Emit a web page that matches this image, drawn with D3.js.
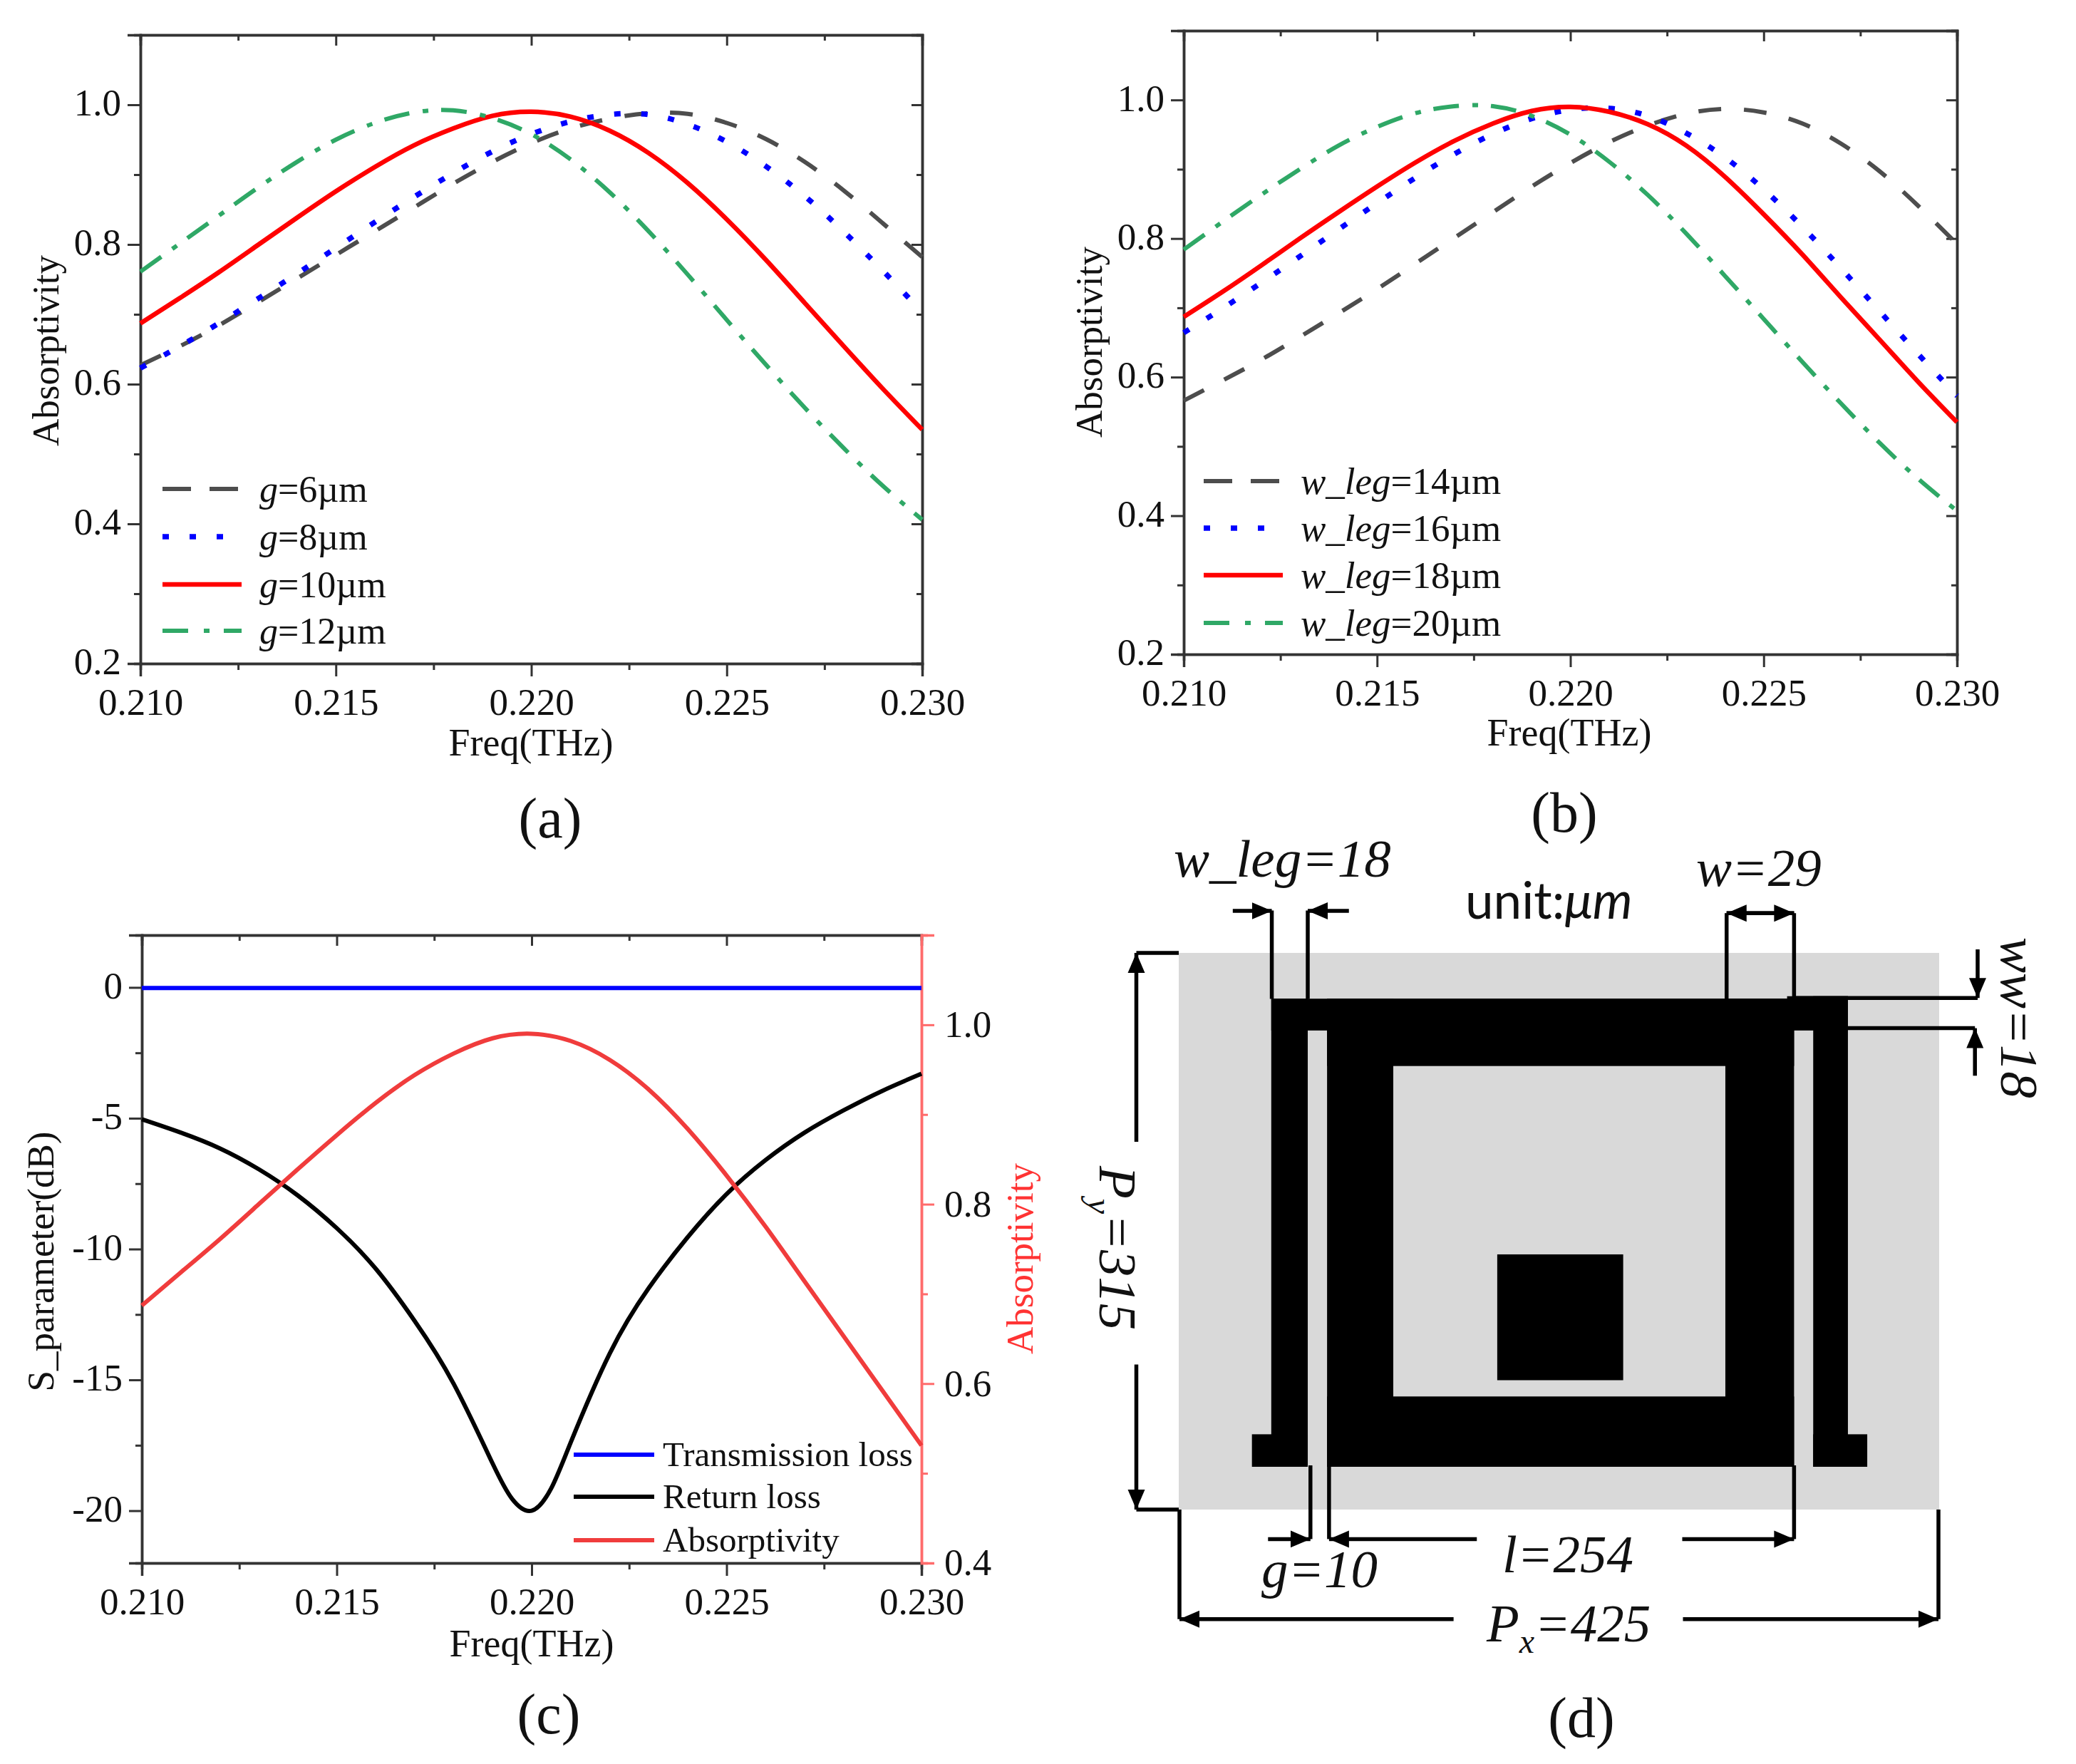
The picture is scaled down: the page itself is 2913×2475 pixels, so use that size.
<!DOCTYPE html>
<html>
<head>
<meta charset="utf-8">
<script src="https://cdn.jsdelivr.net/npm/d3@7"></script>
<style>
  html, body { margin: 0; background: #fff; }
  svg { display: block; }
  text { font-family: "Liberation Serif", serif; fill: #111; }
</style>
</head>
<body>
<svg width="2913" height="2475"></svg>
<script>
// frequency grid shared by all the curves (THz)
const freq = [0.210, 0.211, 0.212, 0.213, 0.214, 0.215, 0.216, 0.217, 0.218, 0.219, 0.220,
              0.221, 0.222, 0.223, 0.224, 0.225, 0.226, 0.227, 0.228, 0.229, 0.230]
const xTicks = [0.210, 0.215, 0.220, 0.225, 0.230]
const xMinor = [0.2125, 0.2175, 0.2225, 0.2275]

// (a) gap sweep
const g6 = [.627, .654, .684, .717, .751, .785, .819, .853, .887, .918, .945,
            .966, .980, .988, .987, .974, .951, .918, .877, .830, .782]
const g8 = [.623, .654, .687, .722, .758, .795, .832, .868, .902, .933, .958,
            .976, .986, .986, .972, .947, .912, .869, .818, .762, .703]
const g10 = [.687, .723, .760, .799, .838, .876, .911, .942, .966, .984, .990,
             .983, .963, .931, .888, .836, .778, .716, .654, .593, .535]
const g12 = [.761, .801, .841, .881, .918, .950, .974, .989, .992, .981, .958,
             .922, .875, .819, .757, .692, .628, .566, .508, .454, .406]
const gLabels = ['6', '8', '10', '12']

// (b) leg width sweep
const leg14 = [.566, .595, .625, .658, .692, .727, .764, .801, .838, .875, .909,
               .939, .963, .980, .987, .982, .966, .937, .897, .847, .792]
const leg16 = [.664, .699, .736, .774, .813, .851, .888, .922, .951, .973, .986,
               .988, .977, .952, .917, .871, .817, .757, .695, .633, .573]
const leg18 = [.687, .723, .761, .800, .838, .875, .910, .941, .966, .984, .990,
               .983, .965, .934, .889, .835, .777, .715, .654, .593, .535]
const leg20 = [.784, .824, .863, .900, .934, .961, .981, .991, .991, .977, .950,
               .911, .863, .807, .746, .684, .622, .562, .505, .453, .407]
const legLabels = ['14', '16', '18', '20']

// (c) S parameters and absorptivity
const lossFreq = [0.210, 0.211, 0.212, 0.213, 0.214, 0.215, 0.216, 0.217, 0.218, 0.219, 0.2195, 0.220,
                  0.2205, 0.221, 0.222, 0.223, 0.224, 0.225, 0.226, 0.227, 0.228, 0.229, 0.230]
const returnLoss = [-5.04, -5.55, -6.15, -6.95, -7.95, -9.2, -10.75, -12.75, -15.15, -18.2, -19.55, -20.0,
                    -19.15, -17.4, -14.0, -11.5, -9.55, -7.9, -6.6, -5.55, -4.7, -3.95, -3.3]
const transLoss = freq.map(() => -0.02)
const absorb = [.687, .724, .761, .800, .839, .877, .913, .944, .968, .985, .990,
                .982, .961, .928, .884, .832, .775, .714, .653, .592, .531]
const cLabels = ['Transmission loss', 'Return loss', 'Absorptivity']

// (d) unit cell geometry in um, origin at the top left of the period
const cellBlack = [
  {x0: 51.7, x1: 72.1, y0: 25.9, y1: 290.8},
  {x0: 40.9, x1: 72.1, y0: 272.4, y1: 290.8},
  {x0: 51.7, x1: 344, y0: 25.9, y1: 43.9},
  {x0: 82.9, x1: 343.9, y0: 25.9, y1: 64},
  {x0: 82.9, x1: 119.9, y0: 25.9, y1: 290.8},
  {x0: 305.5, x1: 343.9, y0: 25.9, y1: 290.8},
  {x0: 82.9, x1: 343.9, y0: 251, y1: 290.8},
  {x0: 340, x1: 374, y0: 24.5, y1: 43.9},
  {x0: 354.6, x1: 374, y0: 24.5, y1: 290.8},
  {x0: 354.6, x1: 384.8, y0: 272.4, y1: 290.8},
  {x0: 178, x1: 248.4, y0: 170.6, y1: 241.8}
]
const dimLines = [
  [52, -24, 52, 26], [72.1, -24, 72.1, 26], [306.2, -22.5, 306.2, 26], [343.9, -22.5, 343.9, 26],
  [343.9, 25.5, 446.5, 25.5], [374, 42.6, 445, 42.6],
  [-23.7, 0, 0, 0], [-23.7, 315, 0, 315],
  [73.6, 290, 73.6, 331.7], [84, 290, 84, 331.7], [343.9, 290, 343.9, 331.7],
  [0.4, 315, 0.4, 377], [424.6, 315, 424.6, 377]
]
const dimArrows = [
  [30.2, -23.8, 52, -23.8], [95.1, -23.8, 72.1, -23.8],
  [306.2, -22.5, 343.9, -22.5], [343.9, -22.5, 306.2, -22.5],
  [446.5, -2, 446.5, 25.5], [445, 69.5, 445, 42.6],
  [-23.7, 106.9, -23.7, 0], [-23.7, 232.9, -23.7, 315],
  [49.9, 331.7, 73.6, 331.7], [166.6, 331.7, 84, 331.7], [281.4, 331.7, 343.9, 331.7],
  [153.6, 377, 0.4, 377], [281.8, 377, 424.6, 377]
]

const axisColor = '#333'
const gray = '#4d4d4d', blue = '#0000ff', red = '#ff0000', green = '#2fa866'
const redAxis = '#ff6b6b', redText = '#ff5050', redLine = '#f03c3c'
const dashStyle = [
  {color: gray, dash: '32 32', width: 6, legendDash: '40 26'},
  {color: blue, dash: '9 29', width: 7.5, legendDash: '9 29'},
  {color: red, dash: null, width: 6.5, legendDash: null},
  {color: green, dash: '36 19 8 18', width: 6, legendDash: '36 22 8 20'}
]

const svg = d3.select('svg')

function styleAxis(g, color) {
  g.selectAll('.domain').attr('stroke', color).attr('stroke-width', 3.5)
  g.selectAll('.tick line').attr('stroke', color).attr('stroke-width', 3)
  g.selectAll('.tick text')
    .attr('fill', color === axisColor ? '#111' : redText)
    .attr('font-size', 53)
    .attr('font-family', '"Liberation Serif", serif')
}

function addFrame(x, y, box, opts) {
  const f3 = d3.format('.3f')
  const bottom = svg.append('g').attr('transform', `translate(0,${box.bottom})`)
    .call(d3.axisBottom(x).tickValues(xTicks).tickSize(18).tickPadding(16).tickFormat(f3))
  styleAxis(bottom, axisColor)
  const bottomMinor = svg.append('g').attr('transform', `translate(0,${box.bottom})`)
    .call(d3.axisBottom(x).tickValues(xMinor).tickSize(9).tickFormat(''))
  styleAxis(bottomMinor, axisColor)

  const top = svg.append('g').attr('transform', `translate(0,${box.top})`)
    .call(d3.axisTop(x).tickValues(xTicks).tickSize(-15).tickFormat(''))
  styleAxis(top, axisColor)
  const topMinor = svg.append('g').attr('transform', `translate(0,${box.top})`)
    .call(d3.axisTop(x).tickValues(xMinor).tickSize(-8).tickFormat(''))
  styleAxis(topMinor, axisColor)

  const left = svg.append('g').attr('transform', `translate(${box.left},0)`)
    .call(d3.axisLeft(y).tickValues(opts.yTicks).tickSize(18).tickPadding(9).tickFormat(opts.yFormat))
  styleAxis(left, axisColor)
  left.selectAll('.tick text').attr('dy', '0.28em')
  const leftMinor = svg.append('g').attr('transform', `translate(${box.left},0)`)
    .call(d3.axisLeft(y).tickValues(opts.yMinor).tickSize(9).tickFormat(''))
  styleAxis(leftMinor, axisColor)
}

function addRightFrame(y, box, opts) {
  const right = svg.append('g').attr('transform', `translate(${box.right},0)`)
    .call(d3.axisRight(y).tickValues(opts.yTicks).tickSize(-15).tickFormat(''))
  styleAxis(right, axisColor)
  const rightMinor = svg.append('g').attr('transform', `translate(${box.right},0)`)
    .call(d3.axisRight(y).tickValues(opts.yMinor).tickSize(-8).tickFormat(''))
  styleAxis(rightMinor, axisColor)
}

function drawCurve(xs, ys, x, y, style) {
  const line = d3.line().x((d, i) => x(xs[i])).y(d => y(d)).curve(d3.curveNatural)
  svg.append('path').datum(ys)
    .attr('d', line)
    .attr('fill', 'none')
    .attr('stroke', style.color)
    .attr('stroke-width', style.width)
    .attr('stroke-dasharray', style.dash)
}

function addLabel(txt, px, py, size, rotate, color) {
  const t = svg.append('text')
    .attr('font-size', size)
    .attr('text-anchor', 'middle')
    .attr('transform', `translate(${px},${py})` + (rotate ? ` rotate(${rotate})` : ''))
    .text(txt)
  if (color) t.style('fill', color)
  return t
}

function addSweepLegend(labels, prefix, lx0, lx1, textX, rows, size) {
  labels.forEach((d, i) => {
    const s = dashStyle[i]
    svg.append('line')
      .attr('x1', lx0).attr('x2', lx1).attr('y1', rows[i]).attr('y2', rows[i])
      .attr('stroke', s.color).attr('stroke-width', s.width)
      .attr('stroke-dasharray', s.legendDash)
    const t = svg.append('text').attr('x', textX).attr('y', rows[i] + 18).attr('font-size', size)
    t.append('tspan').attr('font-style', 'italic').text(prefix)
    t.append('tspan').text(`=${d}\u00b5m`)
  })
}

// ---- panel (a)
const boxA = {left: 197, right: 1294, top: 49, bottom: 931}
const xA = d3.scaleLinear().domain([0.21, 0.23]).range([boxA.left, boxA.right])
const yA = d3.scaleLinear().domain([0.2, 1.1]).range([boxA.bottom, boxA.top])
const absOpts = {yTicks: [0.2, 0.4, 0.6, 0.8, 1.0], yMinor: [0.3, 0.5, 0.7, 0.9], yFormat: d3.format('.1f')}
addFrame(xA, yA, boxA, absOpts)
addRightFrame(yA, boxA, absOpts)
;[g6, g8, g10, g12].forEach((s, i) => drawCurve(freq, s, xA, yA, dashStyle[i]))
addLabel('Freq(THz)', 745, 1060, 54)
addLabel('Absorptivity', 82, 492, 53, -90)
addLabel('(a)', 772, 1175, 80)
addSweepLegend(gLabels, 'g', 228, 339, 364, [686, 753, 820, 885], 52)

// ---- panel (b)
const boxB = {left: 1661, right: 2746, top: 43, bottom: 918}
const xB = d3.scaleLinear().domain([0.21, 0.23]).range([boxB.left, boxB.right])
const yB = d3.scaleLinear().domain([0.2, 1.1]).range([boxB.bottom, boxB.top])
addFrame(xB, yB, boxB, absOpts)
addRightFrame(yB, boxB, absOpts)
;[leg14, leg16, leg18, leg20].forEach((s, i) => drawCurve(freq, s, xB, yB, dashStyle[i]))
addLabel('Freq(THz)', 2202, 1046, 54)
addLabel('Absorptivity', 1546, 480, 53, -90)
addLabel('(b)', 2195, 1167, 80)
addSweepLegend(legLabels, 'w_leg', 1689, 1800, 1825, [675, 741, 807, 874], 53)

// ---- panel (c)
const boxC = {left: 199, right: 1293, top: 1312, bottom: 2193}
const xC = d3.scaleLinear().domain([0.21, 0.23]).range([boxC.left, boxC.right])
const yC = d3.scaleLinear().domain([-22, 2]).range([boxC.bottom, boxC.top])
const yC2 = d3.scaleLinear().domain([0.4, 1.1]).range([boxC.bottom, boxC.top])
addFrame(xC, yC, boxC, {
  yTicks: [-20, -15, -10, -5, 0],
  yMinor: [-17.5, -12.5, -7.5, -2.5],
  yFormat: d => String(d)
})
const rightC = svg.append('g').attr('transform', `translate(${boxC.right},0)`)
  .call(d3.axisRight(yC2).tickValues([0.4, 0.6, 0.8, 1.0]).tickSize(18).tickPadding(14).tickFormat(d3.format('.1f')))
styleAxis(rightC, redAxis)
const rightCMinor = svg.append('g').attr('transform', `translate(${boxC.right},0)`)
  .call(d3.axisRight(yC2).tickValues([0.5, 0.7, 0.9, 1.1]).tickSize(9).tickFormat(''))
styleAxis(rightCMinor, redAxis)

drawCurve(freq, transLoss, xC, yC, {color: blue, width: 6})
drawCurve(lossFreq, returnLoss, xC, yC, {color: '#000', width: 6})
drawCurve(freq, absorb, xC, yC2, {color: redLine, width: 6})

addLabel('Freq(THz)', 746, 2324, 54)
addLabel('S_parameter(dB)', 75, 1770, 53, -90)
addLabel('Absorptivity', 1449, 1766, 53, -90, '#ff3333')
addLabel('(c)', 770, 2432, 80)
const cColors = [blue, '#000', redLine]
const cRows = [2041, 2100, 2161]
cLabels.forEach((d, i) => {
  svg.append('line').attr('x1', 805).attr('x2', 918).attr('y1', cRows[i]).attr('y2', cRows[i])
    .attr('stroke', cColors[i]).attr('stroke-width', 6)
  svg.append('text').attr('x', 930).attr('y', cRows[i] + 16).attr('font-size', 49).text(d)
})

// ---- panel (d), schematic
const xD = d3.scaleLinear().domain([0, 425]).range([1654, 2721])
const yD = d3.scaleLinear().domain([0, 315]).range([1337, 2118])

svg.append('defs').append('marker')
  .attr('id', 'head').attr('markerUnits', 'userSpaceOnUse')
  .attr('markerWidth', 30).attr('markerHeight', 26)
  .attr('refX', 28).attr('refY', 13).attr('orient', 'auto')
  .append('path').attr('d', 'M0,1 L28,13 L0,25 Z').attr('fill', '#000')

svg.append('rect')
  .attr('x', xD(0)).attr('y', yD(0))
  .attr('width', xD(425) - xD(0)).attr('height', yD(315) - yD(0))
  .attr('fill', '#d9d9d9')

svg.selectAll('.cell').data(cellBlack).enter().append('rect')
  .classed('cell', true)
  .attr('x', d => xD(d.x0)).attr('y', d => yD(d.y0))
  .attr('width', d => xD(d.x1) - xD(d.x0)).attr('height', d => yD(d.y1) - yD(d.y0))
  .attr('fill', '#000')

svg.selectAll('.dim').data(dimLines).enter().append('line')
  .classed('dim', true)
  .attr('x1', d => xD(d[0])).attr('y1', d => yD(d[1]))
  .attr('x2', d => xD(d[2])).attr('y2', d => yD(d[3]))
  .attr('stroke', '#000').attr('stroke-width', 5.5)

svg.selectAll('.arrow').data(dimArrows).enter().append('line')
  .classed('arrow', true)
  .attr('x1', d => xD(d[0])).attr('y1', d => yD(d[1]))
  .attr('x2', d => xD(d[2])).attr('y2', d => yD(d[3]))
  .attr('stroke', '#000').attr('stroke-width', 5.5)
  .attr('marker-end', 'url(#head)')

function dimText(parts, px, py, rotate) {
  const t = svg.append('text')
    .attr('font-size', 75).attr('font-style', 'italic')
    .attr('transform', `translate(${px},${py})` + (rotate ? ` rotate(${rotate})` : ''))
  parts.forEach(p => {
    const s = t.append('tspan').text(p.t)
    if (p.sub) s.attr('font-size', 48).attr('dy', 16)
    if (p.up) s.attr('dy', -16)
  })
}
dimText([{t: 'w_leg=18'}], 1647, 1230)
dimText([{t: 'w=29'}], 2380, 1243)
dimText([{t: 'ww=18'}], 2808, 1315, 90)
dimText([{t: 'P'}, {t: 'y', sub: true}, {t: '=315', up: true}], 1543, 1636, 90)
dimText([{t: 'g=10'}], 1770, 2227)
dimText([{t: 'l=254'}], 2108, 2206)
dimText([{t: 'P'}, {t: 'x', sub: true}, {t: '=425', up: true}], 2086, 2303)

const unit = svg.append('text').attr('x', 2056).attr('y', 1289).attr('font-size', 71)
  .style('font-family', 'Lato, sans-serif')
unit.append('tspan').text('unit:')
unit.append('tspan').attr('font-style', 'italic').text('\u03bcm')

addLabel('(d)', 2219, 2437, 80)
</script>
</body>
</html>
